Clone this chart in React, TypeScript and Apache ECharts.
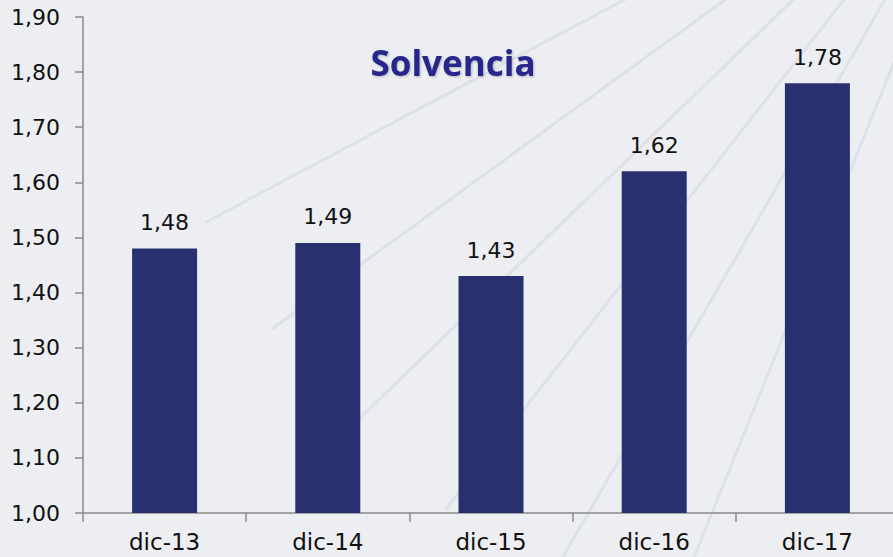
import React, { useEffect, useRef } from "react";
import * as echarts from "echarts";

const categories = ["dic-13", "dic-14", "dic-15", "dic-16", "dic-17"];
const values = [1.48, 1.49, 1.43, 1.62, 1.78];
const yTicks = [1.0, 1.1, 1.2, 1.3, 1.4, 1.5, 1.6, 1.7, 1.8, 1.9];
const title = "Solvencia";

const fmt = (v: number) => v.toFixed(2).replace(".", ",");
const FONT = "'DejaVu Sans', 'Liberation Sans', Arial, sans-serif";

export default function App() {
  const ref = useRef<HTMLDivElement>(null);
  useEffect(() => {
    if (!ref.current) return;
    const chart = echarts.init(ref.current, null, { renderer: "svg" });
    const rays: any[] = [];
    const cx = 1000, cy = -200;
    [208, 216, 224, 232, 240, 248].forEach((deg) => {
      const r = (deg * Math.PI) / 180;
      rays.push({
        type: "line",
        silent: true,
        z: -10,
        shape: { x1: cx, y1: cy, x2: cx + Math.cos(r) * 900, y2: cy - Math.sin(r) * 900 },
        style: { stroke: "rgba(190,196,205,0.3)", lineWidth: 3 },
      });
    });
    chart.setOption({
      animation: false,
      backgroundColor: "#eceef2",
      title: {
        text: title,
        left: 448,
        top: 40,
        textAlign: "center",
        textStyle: {
          fontFamily: "'Open Sans', sans-serif",
          fontWeight: "bold",
          fontSize: 35,
          color: "#27288c",
          textShadowColor: "rgba(0,0,0,0.25)",
          textShadowBlur: 2,
          textShadowOffsetX: 1,
          textShadowOffsetY: 1,
        },
      },
      graphic: rays,
      grid: { left: 83, right: 0, top: 17, bottom: 44, containLabel: false },
      xAxis: {
        type: "category",
        data: categories,
        axisLine: { lineStyle: { color: "#8a8a8a", width: 1.5 } },
        axisTick: { show: true, length: 9, lineStyle: { color: "#8a8a8a", width: 1.5 } },
        axisLabel: {
          margin: 17,
          fontFamily: FONT,
          fontSize: 23,
          color: "#111",
        },
      },
      yAxis: {
        type: "value",
        min: 1.0,
        max: 1.9,
        interval: 0.1,
        splitLine: { show: false },
        axisLine: { show: true, lineStyle: { color: "#8a8a8a", width: 1.5 } },
        axisTick: { show: true, length: 8, lineStyle: { color: "#8a8a8a", width: 1.5 } },
        axisLabel: {
          margin: 23,
          fontFamily: FONT,
          fontSize: 22,
          color: "#111",
          formatter: (v: number) => {
            const t = yTicks.find((x) => Math.abs(x - v) < 1e-6);
            return t !== undefined ? fmt(t) : "";
          },
        },
      },
      series: [
        {
          type: "bar",
          data: values,
          barWidth: 65,
          itemStyle: { color: "#293070" },
          label: {
            show: true,
            position: "top",
            distance: 15,
            fontFamily: FONT,
            fontSize: 22,
            color: "#111",
            formatter: (p: any) => fmt(p.value),
          },
        },
      ],
    });
    return () => chart.dispose();
  }, []);
  return (
    <div
      style={{
        position: "fixed",
        left: 0,
        top: 0,
        width: 893,
        height: 557,
        overflow: "hidden",
        background: "#eceef2",
      }}
    >
      <div ref={ref} style={{ width: 899, height: 557 }} />
    </div>
  );
}
